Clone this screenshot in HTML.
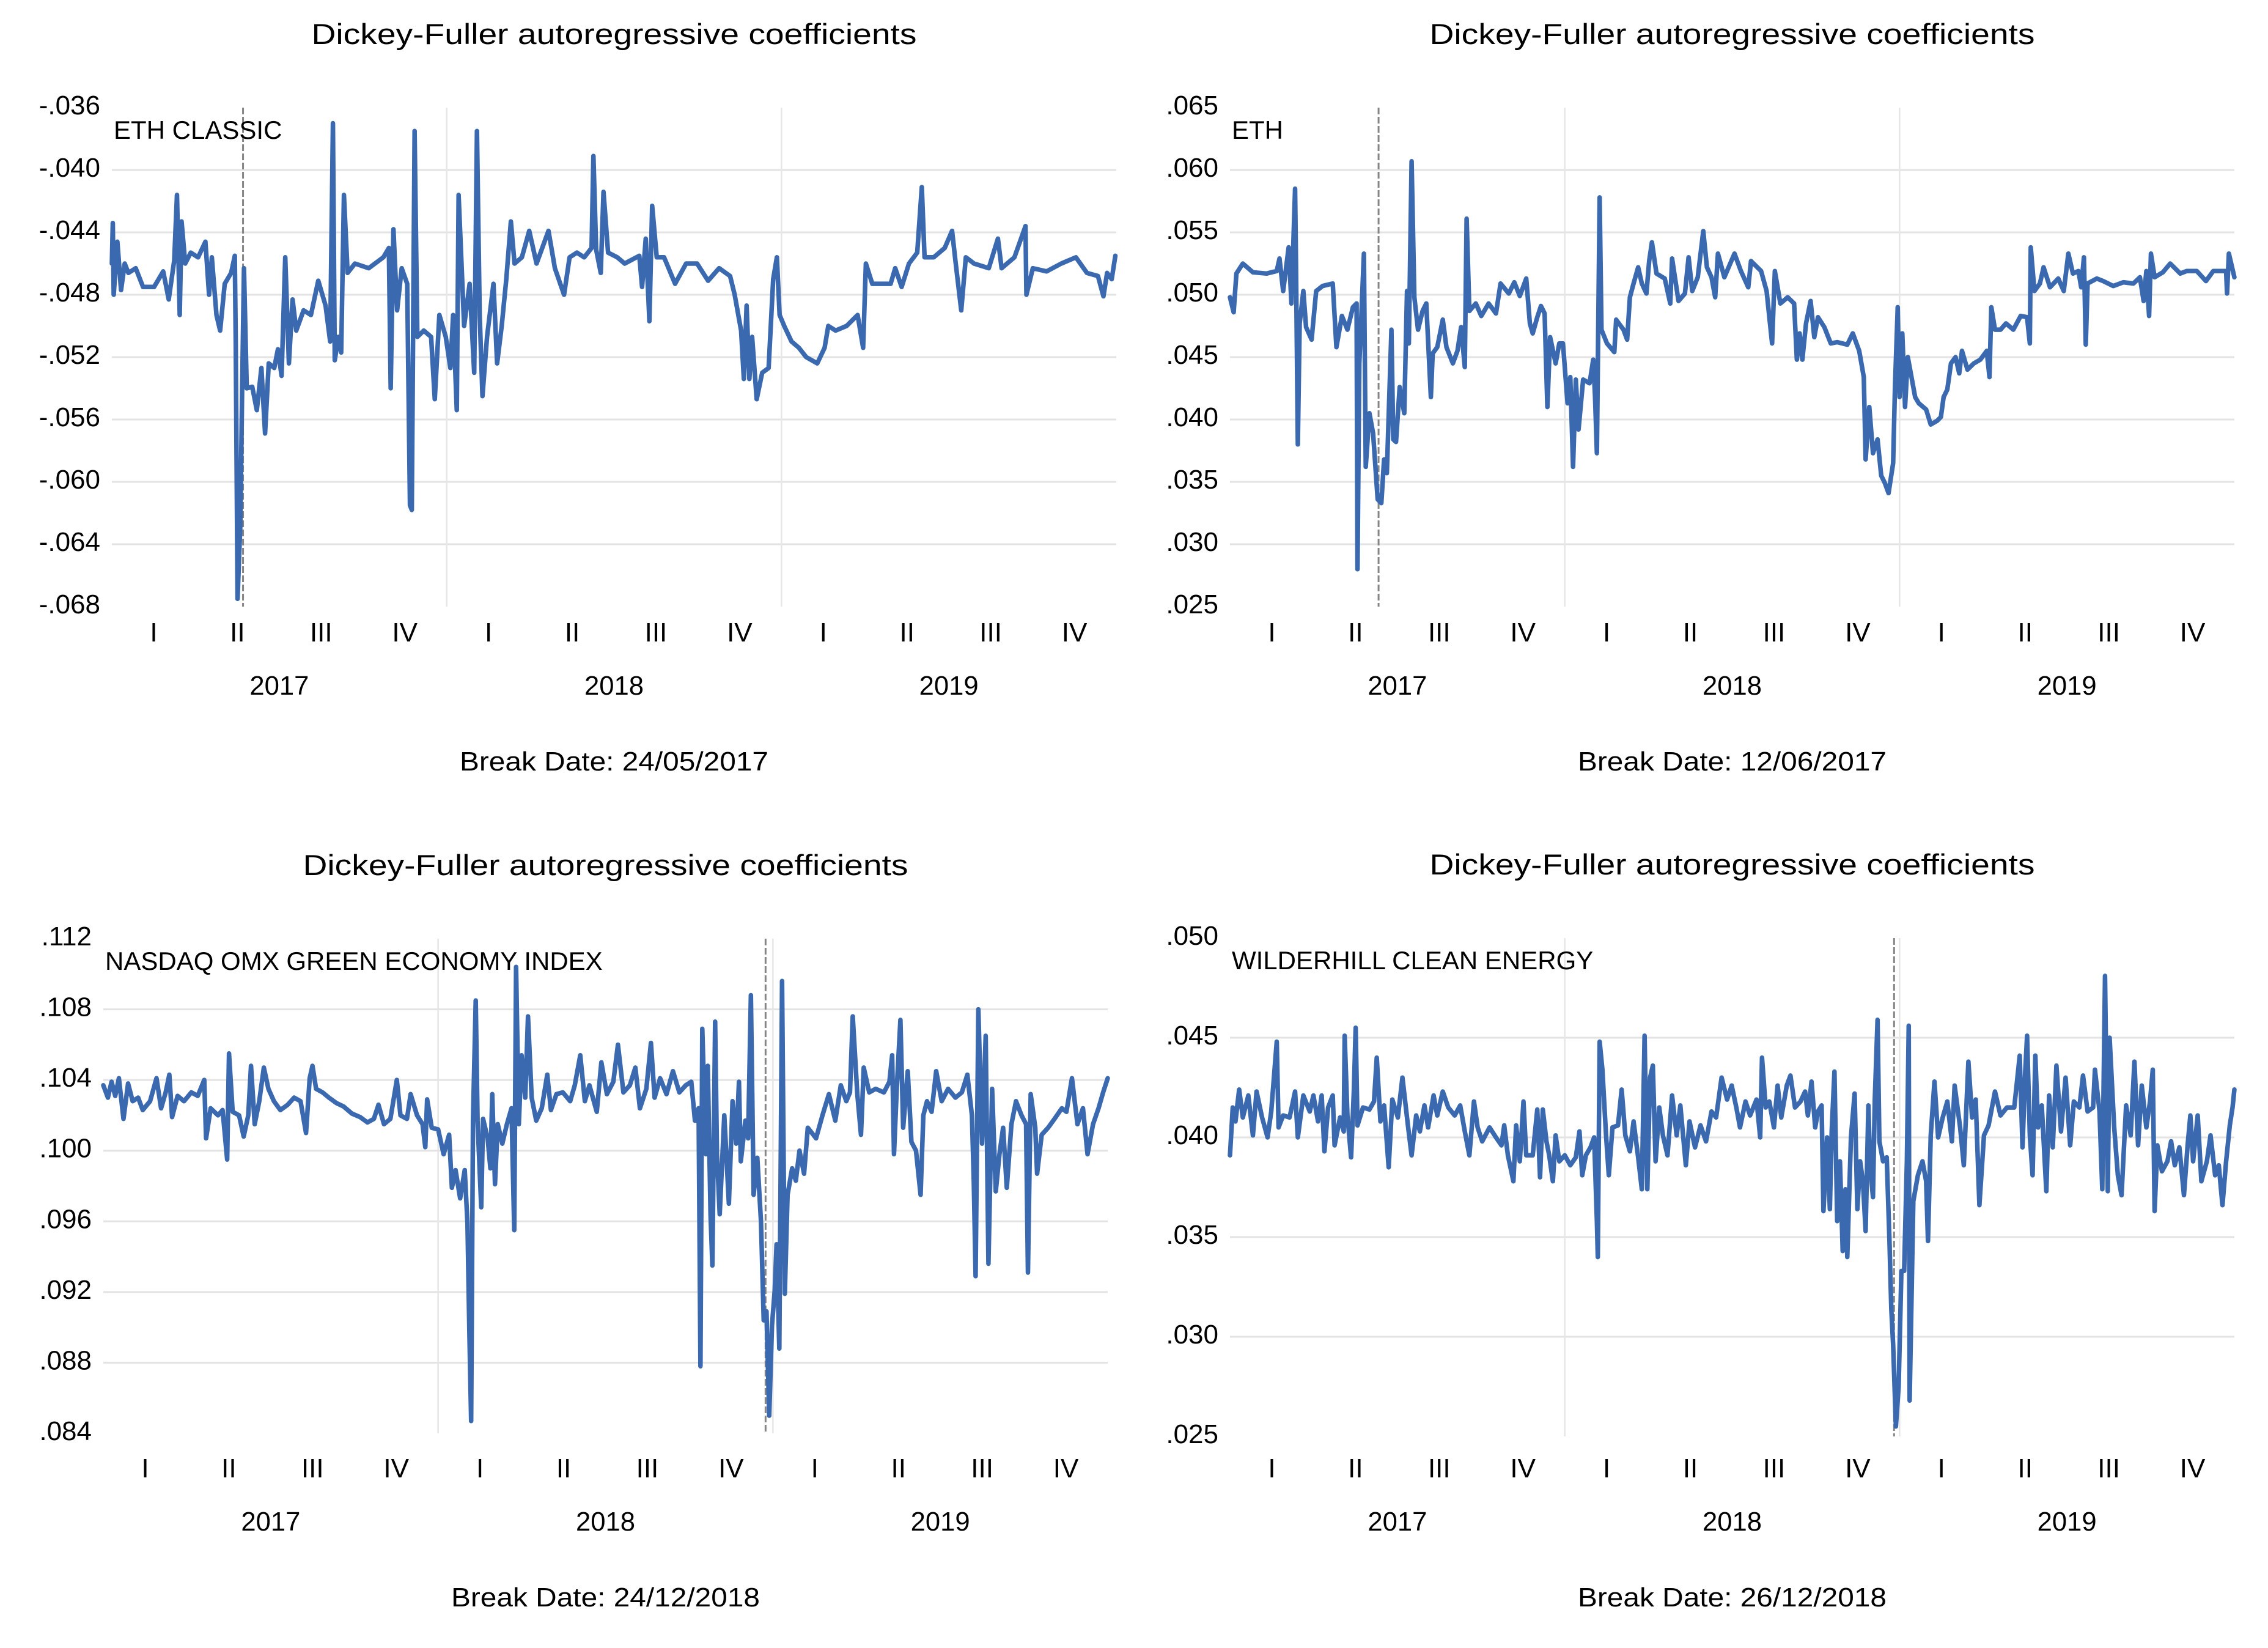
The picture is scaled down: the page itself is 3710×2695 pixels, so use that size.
<!DOCTYPE html>
<html><head><meta charset="utf-8">
<style>
html,body{margin:0;padding:0;background:#fff;}
svg{display:block;}
text{font-family:"Liberation Sans",sans-serif;fill:#000;}
</style></head>
<body>
<svg id="fig" xmlns="http://www.w3.org/2000/svg" width="3710" height="2695" viewBox="0 0 3710 2695"></svg>
<script>
// ---------- DATA ----------
const quarterLabels = ["I","II","III","IV"];
const yearLabels = ["2017","2018","2019"];

const p1Title = "Dickey-Fuller autoregressive coefficients";
const p1Series = "ETH CLASSIC";
const p1Break = "Break Date: 24/05/2017";
const p1BreakDay = 143;
const p1Ticks = [-0.068,-0.064,-0.060,-0.056,-0.052,-0.048,-0.044,-0.040,-0.036];
const p1TickLabels = ["-.068","-.064","-.060","-.056","-.052","-.048","-.044","-.040","-.036"];
const p1Days = [0,1,2,6,10,14,18,26,34,46,56,62,68,71,74,76,80,86,94,102,106,109,114,118,123,130,134,135,137,140,142,144,147,153,158,163,167,171,177,181,185,189,193,197,201,209,217,225,233,238,241,243,247,250,253,257,265,280,296,302,304,307,311,316,322,325,327,330,333,340,348,352,357,364,369,372,376,378,384,390,395,398,401,404,409,416,420,425,430,435,439,447,455,463,476,483,493,499,507,515,523,525,528,533,536,541,551,559,575,578,582,586,589,594,602,614,626,638,650,662,674,679,686,689,692,695,698,703,709,716,721,725,728,733,741,749,757,769,777,781,789,801,813,819,822,829,838,849,854,861,869,878,883,886,896,908,916,920,926,931,940,956,966,970,984,996,997,1004,1019,1035,1051,1063,1075,1081,1085,1090,1094];
const p1Values = [-.0460,-.0434,-.0480,-.0446,-.0477,-.0460,-.0466,-.0463,-.0475,-.0475,-.0465,-.0483,-.0458,-.0416,-.0493,-.0433,-.0460,-.0453,-.0456,-.0446,-.0480,-.0456,-.0493,-.0503,-.0473,-.0466,-.0455,-.0510,-.0675,-.0628,-.0540,-.0463,-.0540,-.0539,-.0554,-.0527,-.0569,-.0524,-.0527,-.0515,-.0532,-.0456,-.0524,-.0483,-.0503,-.0490,-.0493,-.0471,-.0487,-.0510,-.0370,-.0522,-.0507,-.0517,-.0416,-.0466,-.0460,-.0463,-.0456,-.0450,-.0540,-.0438,-.0490,-.0463,-.0473,-.0615,-.0618,-.0375,-.0507,-.0503,-.0507,-.0547,-.0493,-.0507,-.0527,-.0493,-.0554,-.0416,-.0500,-.0473,-.0530,-.0375,-.0493,-.0545,-.0507,-.0473,-.0524,-.0500,-.0470,-.0433,-.0460,-.0456,-.0439,-.0460,-.0439,-.0463,-.0480,-.0456,-.0453,-.0456,-.0450,-.0391,-.0451,-.0466,-.0414,-.0453,-.0456,-.0460,-.0455,-.0475,-.0444,-.0497,-.0423,-.0456,-.0456,-.0473,-.0460,-.0460,-.0471,-.0463,-.0468,-.0480,-.0503,-.0534,-.0487,-.0534,-.0507,-.0547,-.0530,-.0527,-.0470,-.0456,-.0493,-.0500,-.0510,-.0514,-.0520,-.0524,-.0514,-.0500,-.0503,-.0500,-.0493,-.0514,-.0460,-.0473,-.0473,-.0473,-.0463,-.0475,-.0460,-.0453,-.0411,-.0456,-.0456,-.0450,-.0439,-.0460,-.0490,-.0456,-.0460,-.0463,-.0444,-.0463,-.0456,-.0436,-.0480,-.0463,-.0465,-.0460,-.0456,-.0466,-.0468,-.0481,-.0466,-.0470,-.0455];

const p2Title = "Dickey-Fuller autoregressive coefficients";
const p2Series = "ETH";
const p2Break = "Break Date: 12/06/2017";
const p2BreakDay = 162;
const p2Ticks = [0.025,0.030,0.035,0.040,0.045,0.050,0.055,0.060,0.065];
const p2TickLabels = [".025",".030",".035",".040",".045",".050",".055",".060",".065"];
const p2Days = [0,4,7,14,25,40,51,54,58,64,67,71,72,74,76,80,83,89,94,101,112,116,122,128,134,138,139,141,146,148,152,156,161,165,168,171,176,178,181,185,190,193,195,198,201,205,210,214,219,221,226,232,236,243,248,252,256,258,261,268,274,282,290,295,304,310,316,323,327,330,335,339,343,346,349,355,359,363,368,371,374,377,380,385,392,396,398,400,403,405,411,419,421,429,433,436,440,445,449,454,457,460,465,474,480,482,489,496,500,504,510,516,520,525,529,532,539,550,557,565,568,579,585,591,594,600,608,615,618,621,624,628,633,637,641,648,655,662,673,679,686,691,693,697,701,706,710,714,718,723,725,728,730,733,736,739,743,747,751,759,764,771,775,778,782,786,791,795,798,804,811,818,825,828,830,834,840,846,854,862,869,872,873,877,883,887,894,903,909,914,919,925,928,931,933,935,945,952,963,974,985,992,996,999,1002,1004,1008,1017,1025,1036,1043,1054,1064,1072,1086,1087,1089,1095];
const p2Values = [.0498,.0486,.0517,.0525,.0518,.0517,.0519,.0529,.0503,.0538,.0493,.0585,.0525,.0380,.0477,.0503,.0474,.0464,.0503,.0507,.0509,.0458,.0483,.0472,.0490,.0493,.0280,.0445,.0533,.0362,.0405,.0389,.0336,.0333,.0368,.0357,.0472,.0384,.0382,.0426,.0405,.0503,.0461,.0607,.0498,.0472,.0487,.0493,.0418,.0453,.0458,.0480,.0458,.0445,.0455,.0474,.0442,.0561,.0487,.0493,.0483,.0493,.0485,.0509,.0501,.0510,.0499,.0513,.0477,.0469,.0482,.0491,.0485,.0410,.0466,.0445,.0461,.0461,.0413,.0434,.0362,.0432,.0392,.0432,.0429,.0448,.0418,.0373,.0578,.0472,.0461,.0454,.0480,.0472,.0464,.0498,.0509,.0522,.0509,.0501,.0527,.0542,.0517,.0513,.0493,.0529,.0495,.0501,.0530,.0503,.0514,.0551,.0522,.0514,.0498,.0533,.0514,.0533,.0519,.0506,.0527,.0519,.0503,.0461,.0519,.0493,.0498,.0493,.0448,.0469,.0448,.0477,.0495,.0466,.0482,.0474,.0461,.0462,.0460,.0469,.0455,.0434,.0368,.0410,.0373,.0384,.0355,.0349,.0341,.0365,.0426,.0490,.0418,.0469,.0410,.0450,.0434,.0418,.0413,.0408,.0396,.0399,.0402,.0418,.0424,.0445,.0450,.0437,.0455,.0440,.0445,.0448,.0455,.0434,.0490,.0472,.0472,.0477,.0472,.0483,.0482,.0461,.0538,.0503,.0509,.0522,.0506,.0513,.0503,.0533,.0517,.0519,.0506,.0530,.0460,.0509,.0513,.0511,.0507,.0510,.0509,.0514,.0495,.0519,.0483,.0533,.0514,.0518,.0525,.0517,.0519,.0519,.0511,.0519,.0519,.0501,.0533,.0514];

const p3Title = "Dickey-Fuller autoregressive coefficients";
const p3Series = "NASDAQ OMX GREEN ECONOMY INDEX";
const p3Break = "Break Date: 24/12/2018";
const p3BreakDay = 722;
const p3Ticks = [0.084,0.088,0.092,0.096,0.100,0.104,0.108,0.112];
const p3TickLabels = [".084",".088",".092",".096",".100",".104",".108",".112"];
const p3Days = [0,5,9,13,17,22,27,32,38,43,51,58,63,68,72,75,81,88,96,103,110,112,117,125,130,135,137,141,148,153,158,161,165,170,175,180,186,193,201,208,215,221,225,228,232,239,246,254,262,271,280,288,295,300,306,313,320,324,331,335,342,348,351,353,358,365,371,377,380,384,389,394,397,399,401,403,406,408,412,414,419,422,424,427,430,435,440,445,448,450,453,456,460,463,467,472,478,484,488,494,501,509,514,520,525,530,538,543,549,556,561,567,574,580,585,592,597,601,607,614,621,628,635,641,645,649,651,653,657,659,662,664,667,669,672,677,680,682,686,690,693,695,700,703,706,709,713,717,720,723,726,729,732,734,737,740,743,746,751,755,759,764,768,777,784,791,798,804,810,814,817,822,826,829,835,842,851,857,860,862,865,869,872,877,881,886,891,894,898,903,908,914,921,929,936,942,947,949,951,954,958,962,965,969,973,977,981,985,990,995,1001,1006,1008,1011,1016,1018,1023,1030,1037,1045,1050,1056,1062,1068,1073,1079,1085,1090,1095];
const p3Values = [.1037,.1030,.1039,.1031,.1041,.1018,.1038,.1028,.1030,.1023,.1028,.1041,.1024,.1033,.1043,.1019,.1031,.1028,.1033,.1031,.1040,.1007,.1024,.1020,.1023,.0995,.1055,.1022,.1020,.1008,.1020,.1048,.1015,.1028,.1047,.1035,.1028,.1023,.1026,.1030,.1028,.1010,.1041,.1048,.1035,.1033,.1030,.1027,.1025,.1021,.1019,.1016,.1018,.1026,.1015,.1018,.1040,.1020,.1018,.1032,.1020,.1015,.1002,.1029,.1013,.1012,.0998,.1009,.0979,.0989,.0973,.0989,.0959,.0899,.0847,.1017,.1085,.1017,.0968,.1018,.1007,.0990,.1032,.0981,.1015,.1004,.1015,.1024,.0955,.1104,.1015,.1054,.1030,.1076,.1030,.1017,.1024,.1043,.1023,.1032,.1033,.1028,.1037,.1054,.1028,.1037,.1022,.1050,.1032,.1039,.1060,.1033,.1037,.1047,.1024,.1035,.1061,.1030,.1041,.1032,.1045,.1033,.1037,.1039,.1017,.1024,.0878,.1069,.0998,.1048,.0964,.0935,.1073,.0998,.0964,.1020,.0990,.0970,.1028,.1004,.1039,.0994,.1017,.1007,.1088,.0975,.0996,.0960,.0904,.0909,.0850,.0901,.0921,.0947,.0888,.1096,.0919,.0975,.0990,.0983,.1000,.0987,.1013,.1007,.1020,.1032,.1017,.1037,.1028,.1033,.1076,.1032,.1009,.1047,.1033,.1035,.1033,.1039,.1054,.0998,.1035,.1074,.1013,.1045,.1005,.1000,.0975,.1020,.1028,.1022,.1045,.1028,.1035,.1030,.1033,.1043,.1020,.0983,.0929,.1080,.1004,.1065,.0936,.1035,.0977,.0998,.1013,.0979,.1015,.1028,.1020,.1015,.0931,.1032,.1013,.0987,.1009,.1013,.1018,.1024,.1022,.1041,.1015,.1024,.0998,.1015,.1024,.1033,.1041];

const p4Title = "Dickey-Fuller autoregressive coefficients";
const p4Series = "WILDERHILL CLEAN ENERGY";
const p4Break = "Break Date: 26/12/2018";
const p4BreakDay = 724;
const p4Ticks = [0.025,0.030,0.035,0.040,0.045,0.050];
const p4TickLabels = [".025",".030",".035",".040",".045",".050"];
const p4Days = [0,3,6,10,14,20,25,29,35,41,45,51,53,58,65,71,74,80,87,91,96,100,103,107,112,114,120,124,125,128,132,135,137,139,145,152,157,160,164,168,173,177,183,188,194,198,203,207,212,216,222,226,232,238,245,251,256,261,266,270,275,283,290,296,299,303,309,312,316,320,323,330,335,338,341,345,348,352,355,359,365,371,377,381,384,388,393,397,400,401,403,406,410,413,417,423,427,431,436,440,445,449,452,455,458,461,464,468,472,477,482,487,491,497,501,507,513,519,525,530,536,542,547,552,556,562,567,574,578,580,584,588,593,597,601,607,611,616,622,627,630,634,638,641,645,647,651,654,656,659,662,665,668,671,673,677,681,684,687,690,693,696,698,701,703,706,708,712,716,719,721,723,726,729,732,735,738,740,741,745,750,755,759,761,764,768,772,777,782,787,790,796,800,805,809,813,817,822,827,834,840,847,855,861,864,867,869,872,875,878,881,885,890,893,897,901,906,911,916,920,926,930,935,941,943,948,951,954,957,959,964,968,972,977,982,986,990,994,999,1003,1006,1008,1011,1016,1022,1026,1030,1035,1040,1044,1047,1050,1055,1059,1065,1069,1074,1078,1082,1086,1090,1093,1095];
const p4Values = [.0391,.0415,.0408,.0424,.0410,.0421,.0401,.0423,.0410,.0400,.0413,.0448,.0405,.0411,.0410,.0423,.0400,.0421,.0413,.0421,.0408,.0421,.0393,.0415,.0421,.0396,.0410,.0403,.0451,.0411,.0390,.0423,.0455,.0406,.0415,.0414,.0418,.0440,.0408,.0416,.0385,.0419,.0410,.0430,.0406,.0391,.0411,.0403,.0416,.0405,.0421,.0411,.0423,.0415,.0411,.0416,.0403,.0391,.0418,.0405,.0398,.0405,.0400,.0396,.0406,.0391,.0378,.0406,.0388,.0418,.0391,.0391,.0414,.0380,.0414,.0398,.0391,.0378,.0401,.0388,.0391,.0386,.0390,.0403,.0381,.0391,.0395,.0400,.0358,.0340,.0448,.0434,.0401,.0381,.0405,.0406,.0424,.0401,.0393,.0408,.0390,.0374,.0451,.0374,.0430,.0436,.0388,.0415,.0401,.0391,.0421,.0401,.0416,.0386,.0408,.0395,.0406,.0398,.0413,.0410,.0430,.0419,.0426,.0415,.0405,.0418,.0411,.0419,.0400,.0440,.0415,.0418,.0405,.0426,.0410,.0426,.0431,.0415,.0418,.0423,.0411,.0428,.0405,.0413,.0416,.0363,.0400,.0364,.0403,.0433,.0358,.0388,.0343,.0374,.0340,.0400,.0422,.0364,.0388,.0378,.0353,.0416,.0385,.0370,.0419,.0459,.0398,.0388,.0390,.0348,.0314,.0296,.0255,.0275,.0333,.0333,.0388,.0456,.0268,.0368,.0381,.0388,.0378,.0348,.0401,.0428,.0400,.0410,.0418,.0398,.0426,.0405,.0386,.0438,.0410,.0419,.0366,.0401,.0406,.0423,.0411,.0415,.0415,.0441,.0395,.0433,.0451,.0401,.0381,.0441,.0405,.0416,.0373,.0421,.0395,.0436,.0403,.0430,.0396,.0418,.0415,.0431,.0413,.0415,.0434,.0413,.0374,.0481,.0373,.0450,.0405,.0381,.0371,.0416,.0401,.0438,.0396,.0426,.0405,.0418,.0434,.0363,.0396,.0383,.0388,.0398,.0386,.0395,.0371,.0396,.0411,.0388,.0411,.0378,.0388,.0401,.0381,.0386,.0366,.0388,.0406,.0415,.0424];

// ---------- DRAW ----------
const NS = "http://www.w3.org/2000/svg";
const svg = document.getElementById("fig");
function mk(tag, attrs, parent){
  const e = document.createElementNS(NS, tag);
  for (const k in attrs) e.setAttribute(k, attrs[k]);
  (parent||svg).appendChild(e);
  return e;
}
const TOTAL_DAYS = 1095;

function drawPanel(cfg){
  const g = mk("g", {});
  
  
  const L = cfg.left, R = cfg.right, T = cfg.top, B = cfg.bottom;
  const ymin = cfg.ticks[0], ymax = cfg.ticks[cfg.ticks.length-1];
  const xScale = d => L + d / TOTAL_DAYS * (R - L);
  const yScale = v => B - (v - ymin) / (ymax - ymin) * (B - T);
  const cx = (L + R) / 2;

  const title = mk("text", {x: cx, y: T - 104, "text-anchor": "middle", "font-size": 47, textLength: 990, lengthAdjust: "spacingAndGlyphs"}, g);
  title.textContent = cfg.title;
  
  

  cfg.ticks.forEach((t, i) => {
    if (i > 0 && i < cfg.ticks.length - 1) {
      const gl = mk("line", {x1: L, x2: R, y1: yScale(t), y2: yScale(t), stroke: "#e3e3e3", "stroke-width": 3}, g);
      
      
    }
    const lbl = mk("text", {x: L - 19, y: yScale(t) + 11, "text-anchor": "end", "font-size": 44}, g);
    lbl.textContent = cfg.tickLabels[i];
    
    
  });

  [365, 730].forEach(d => {
    const vl = mk("line", {x1: xScale(d), x2: xScale(d), y1: T, y2: B, stroke: "#e6e6e6", "stroke-width": 2.5}, g);
    
    
  });

  const bl = mk("line", {x1: xScale(cfg.breakDay), x2: xScale(cfg.breakDay), y1: T, y2: B, stroke: "#858585", "stroke-width": 3, "stroke-dasharray": "11 4"}, g);
  
  

  let d = "";
  cfg.days.forEach((day, i) => {
    d += (i ? "L" : "M") + xScale(day).toFixed(1) + " " + yScale(cfg.values[i]).toFixed(1);
  });
  const path = mk("path", {d: d, fill: "none", stroke: "#3a69b0", "stroke-width": 7.5, "stroke-linejoin": "round", "stroke-linecap": "round"}, g);
  
  

  const sl = mk("text", {x: L + 3, y: T + 51, "font-size": 42}, g);
  sl.textContent = cfg.series;
  
  

  const yearW = (R - L) / 3;
  for (let y = 0; y < 3; y++) {
    for (let q = 0; q < 4; q++) {
      const ql = mk("text", {x: L + yearW * y + yearW * (q + 0.5) / 4, y: cfg.qBase, "text-anchor": "middle", "font-size": 44}, g);
      ql.textContent = quarterLabels[q];
      
      
    }
    const yl = mk("text", {x: L + yearW * (y + 0.5), y: cfg.yBase, "text-anchor": "middle", "font-size": 44, textLength: 97, lengthAdjust: "spacingAndGlyphs"}, g);
    yl.textContent = yearLabels[y];
    
    
  }

  const bd = mk("text", {x: cx, y: cfg.bBase, "text-anchor": "middle", "font-size": 44, textLength: 505, lengthAdjust: "spacingAndGlyphs"}, g);
  bd.textContent = cfg.breakText;
  
  
}

drawPanel({name:"panel-eth-classic", left:183, right:1826, top:176, bottom:992, ticks:p1Ticks, tickLabels:p1TickLabels, days:p1Days, values:p1Values, breakDay:p1BreakDay, title:p1Title, series:p1Series, breakText:p1Break, qBase:1049, yBase:1136, bBase:1260});
drawPanel({name:"panel-eth", left:2012, right:3655, top:176, bottom:992, ticks:p2Ticks, tickLabels:p2TickLabels, days:p2Days, values:p2Values, breakDay:p2BreakDay, title:p2Title, series:p2Series, breakText:p2Break, qBase:1049, yBase:1136, bBase:1260});
drawPanel({name:"panel-nasdaq-green", left:169, right:1812, top:1535, bottom:2344, ticks:p3Ticks, tickLabels:p3TickLabels, days:p3Days, values:p3Values, breakDay:p3BreakDay, title:p3Title, series:p3Series, breakText:p3Break, qBase:2416, yBase:2503, bBase:2627});
drawPanel({name:"panel-wilderhill", left:2012, right:3655, top:1534, bottom:2349, ticks:p4Ticks, tickLabels:p4TickLabels, days:p4Days, values:p4Values, breakDay:p4BreakDay, title:p4Title, series:p4Series, breakText:p4Break, qBase:2416, yBase:2503, bBase:2627});
</script>
</body></html>
